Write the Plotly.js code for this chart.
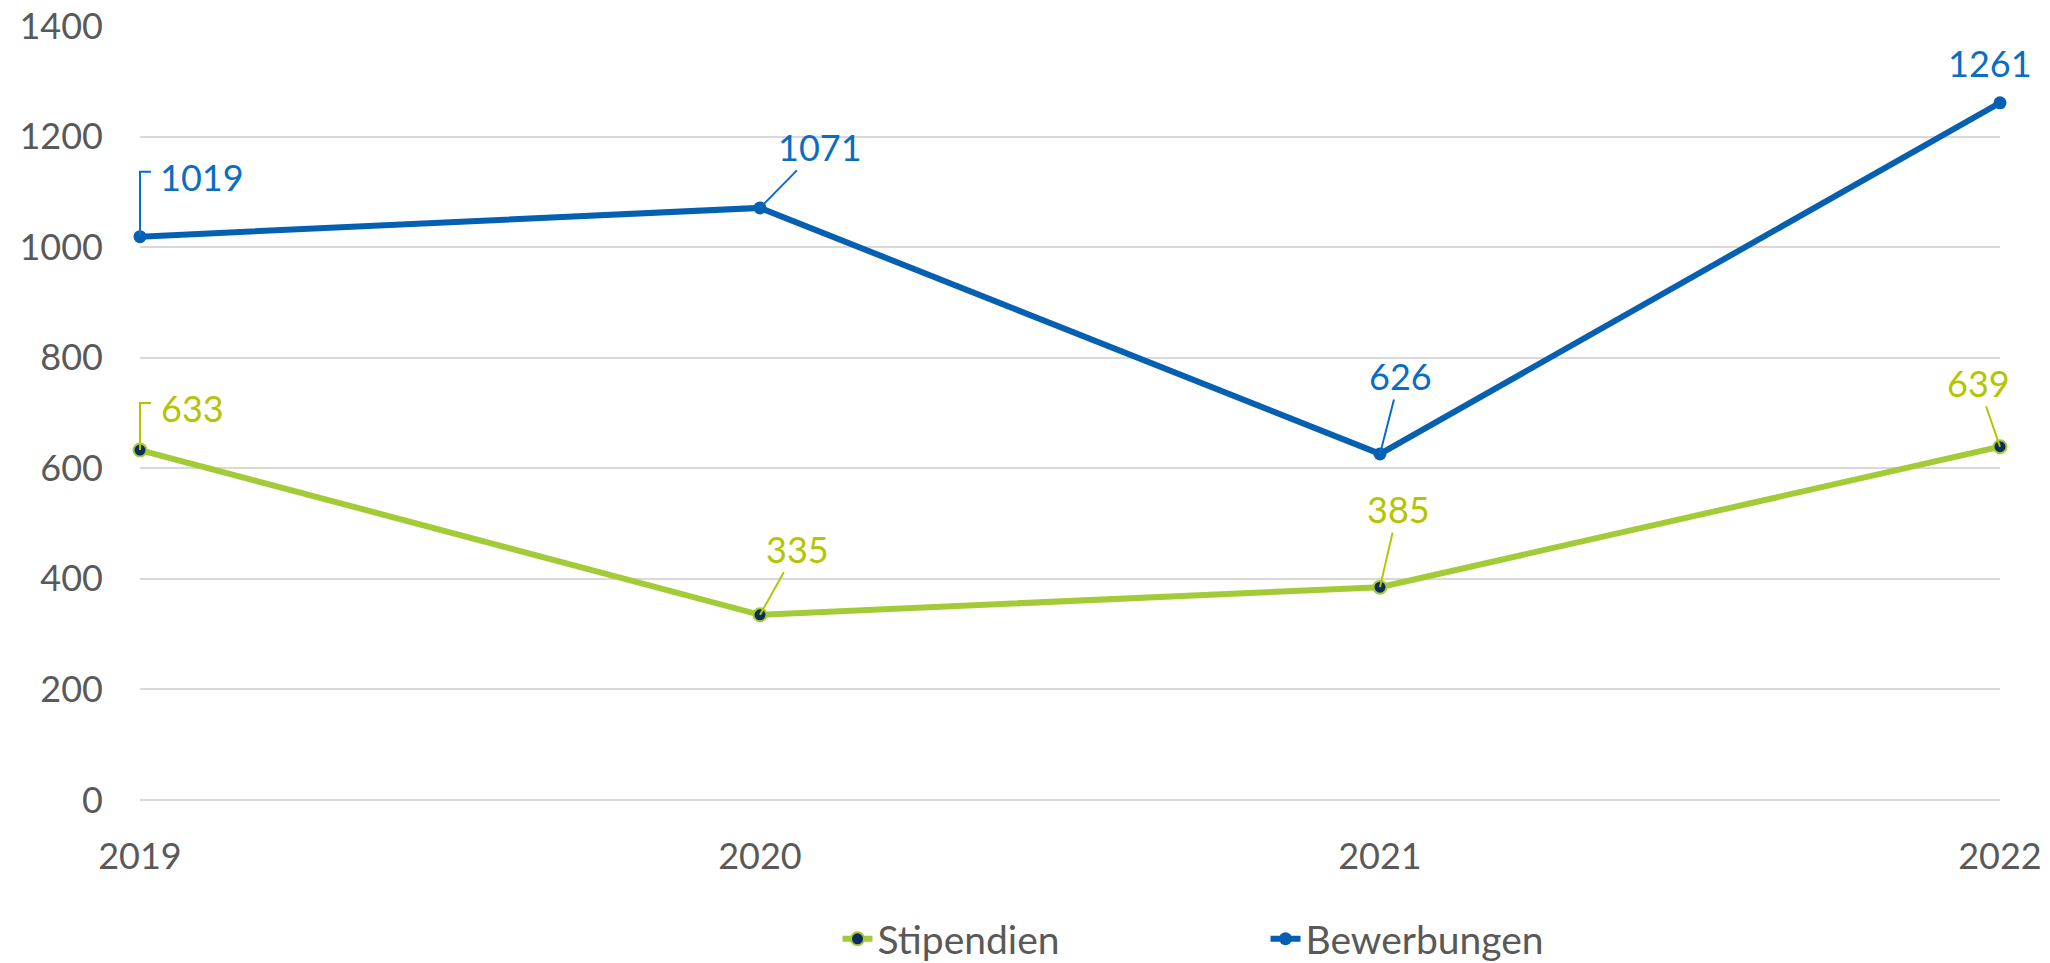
<!DOCTYPE html>
<html>
<head>
<meta charset="utf-8">
<script src="https://cdn.plot.ly/plotly-3.0.1.min.js"></script>
<style>
  html, body { margin: 0; padding: 0; background: #ffffff; }
  #chart { width: 2050px; height: 963px; }
</style>
</head>
<body>
<div id="chart"></div>
<script>
// ---- data ----
const years = ['2019', '2020', '2021', '2022'];
const stipendien = [633, 335, 385, 639];
const bewerbungen = [1019, 1071, 626, 1261];
const seriesNames = ['Stipendien', 'Bewerbungen'];
const yTicks = [0, 200, 400, 600, 800, 1000, 1200, 1400];

// ---- styles ----
const FONT = 'Lato, "Open Sans", sans-serif';
const blueLine = '#0560B2';
const blueText = '#0A6CC4';
const greenLine = '#A3CB38';
const greenText = '#B3C500';
const navy = '#0C2D5C';

const labelPlacement = {
  Bewerbungen: [
    {kind: 'elbow', up: 65, right: 12, dx: 62, dy: -60},
    {kind: 'arrow', ax: 60, ay: -61},
    {kind: 'arrow', ax: 20, ay: -78},
    {kind: 'none', dx: -10, dy: -40}
  ],
  Stipendien: [
    {kind: 'elbow', up: 47, right: 12, dx: 52, dy: -42},
    {kind: 'arrow', ax: 37, ay: -66},
    {kind: 'arrow', ax: 18, ay: -78},
    {kind: 'arrow', ax: -22, ay: -64}
  ]
};

const traces = [
  {
    type: 'scatter', mode: 'lines+markers', name: seriesNames[0],
    x: years, y: stipendien, cliponaxis: false,
    line: {color: greenLine, width: 6},
    marker: {color: navy, size: 13, line: {color: greenLine, width: 2}},
    hoverinfo: 'skip'
  },
  {
    type: 'scatter', mode: 'lines+markers', name: seriesNames[1],
    x: years, y: bewerbungen, cliponaxis: false,
    line: {color: blueLine, width: 6},
    marker: {color: blueLine, size: 13},
    hoverinfo: 'skip'
  }
];

const annotations = [];
function addLabels(name, values, textColor) {
  values.forEach((v, i) => {
    const p = labelPlacement[name][i];
    const fnt = {family: FONT, size: 36, color: textColor};
    if (p.kind === 'arrow') {
      annotations.push({
        x: i, y: v, xref: 'x', yref: 'y', text: String(v), font: fnt,
        showarrow: true, arrowhead: 0, arrowwidth: 2, arrowcolor: textColor,
        ax: p.ax, ay: p.ay, standoff: 0
      });
    } else if (p.kind === 'elbow') {
      // vertical leg
      annotations.push({
        x: i, y: v, xref: 'x', yref: 'y', text: ' ', font: {size: 2},
        xanchor: 'left', yanchor: 'bottom',
        showarrow: true, arrowhead: 0, arrowwidth: 2, arrowcolor: textColor,
        ax: 0, ay: -p.up, standoff: 0
      });
      // horizontal leg
      annotations.push({
        x: i, y: v, xref: 'x', yref: 'y', text: ' ', font: {size: 2},
        xanchor: 'left', yanchor: 'middle',
        showarrow: true, arrowhead: 0, arrowwidth: 2, arrowcolor: textColor,
        ax: p.right, ay: 0, yshift: p.up, xshift: -1, standoff: 0
      });
      annotations.push({
        x: i, y: v, xref: 'x', yref: 'y', text: String(v), font: fnt,
        showarrow: false, xshift: p.dx, yshift: -p.dy
      });
    } else {
      annotations.push({
        x: i, y: v, xref: 'x', yref: 'y', text: String(v), font: fnt,
        showarrow: false, xshift: p.dx, yshift: -p.dy
      });
    }
  });
}
addLabels('Bewerbungen', bewerbungen, blueText);
addLabels('Stipendien', stipendien, greenText);

const layout = {
  width: 2050, height: 963,
  margin: {l: 140, r: 50, t: 26, b: 163},
  paper_bgcolor: '#ffffff', plot_bgcolor: '#ffffff',
  font: {family: FONT, color: '#595959', size: 36},
  showlegend: true,
  legend: {
    orientation: 'h', xref: 'paper', yref: 'container',
    x: 0.375, xanchor: 'left', y: 0.025, yanchor: 'middle',
    font: {family: FONT, size: 39, color: '#595959'},
    entrywidth: 383, entrywidthmode: 'pixels',
    traceorder: 'normal', bgcolor: 'rgba(0,0,0,0)'
  },
  xaxis: {
    type: 'category', range: [0, 3],
    showgrid: false, zeroline: false, showline: false, ticks: '',
    tickfont: {family: FONT, size: 36, color: '#595959'},
    ticklabelstandoff: 32, fixedrange: true
  },
  yaxis: {
    range: [0, 1400], tickvals: yTicks, ticktext: yTicks.map(String),
    showgrid: true, gridcolor: '#D9D9D9', gridwidth: 2,
    zeroline: true, zerolinecolor: '#D9D9D9', zerolinewidth: 2, showline: false, ticks: '',
    tickfont: {family: FONT, size: 36, color: '#595959'},
    ticklabelstandoff: 36, fixedrange: true
  },
  annotations: annotations
};

Plotly.newPlot('chart', traces, layout, {staticPlot: true, displayModeBar: false});
</script>
</body>
</html>
